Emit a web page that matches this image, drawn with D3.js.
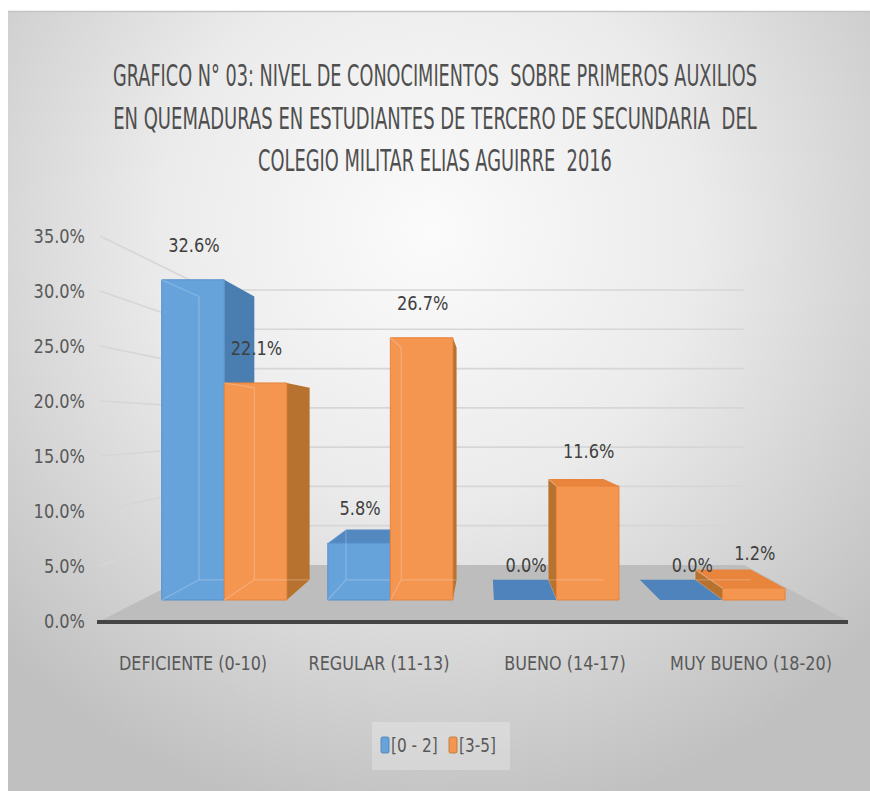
<!DOCTYPE html>
<html>
<head>
<meta charset="utf-8">
<script src="https://cdn.jsdelivr.net/npm/d3@7"></script>
<style>
  html, body { margin: 0; padding: 0; background: #fff; }
  svg { display: block; }
  text { font-family: 'Liberation Sans Narrow', 'DejaVu Sans Condensed', 'Roboto', sans-serif; }
</style>
</head>
<body>
<svg id="chart"></svg>
<script>
// Data
const categories = ['DEFICIENTE (0-10)', 'REGULAR (11-13)', 'BUENO (14-17)', 'MUY BUENO (18-20)'];
const seriesNames = ['[0 - 2]', '[3-5]'];
const valuesLow = [0.326, 0.058, 0.0, 0.0];      // [0 - 2]
const valuesHigh = [0.221, 0.267, 0.116, 0.012]; // [3-5]
const yTicks = [0, 0.05, 0.10, 0.15, 0.20, 0.25, 0.30, 0.35];
const titleLines = [
  'GRAFICO N° 03: NIVEL DE CONOCIMIENTOS  SOBRE PRIMEROS AUXILIOS',
  'EN QUEMADURAS EN ESTUDIANTES DE TERCERO DE SECUNDARIA  DEL',
  'COLEGIO MILITAR ELIAS AGUIRRE  2016'
];

const width = 870, height = 791;
const svg = d3.select('#chart').attr('width', width).attr('height', height);

// palette: front / side / top
const colors = {
  '[0 - 2]': { front: '#67a3db', side: '#4a7db0', top: '#5488c0', edge: '#5590cc' },
  '[3-5]':   { front: '#f49550', side: '#b8722f', top: '#e8843c', edge: '#e7843c' }
};

// squeeze text horizontally (the source font is a tall condensed face)
function condense(sel, sx) {
  sel.each(function() {
    const t = d3.select(this);
    const px = +t.attr('x') || 0, py = +t.attr('y') || 0;
    t.attr('x', 0).attr('y', 0)
      .attr('transform', `translate(${px},${py}) scale(${sx},1)`);
  });
}

// background
const defs = svg.append('defs');
const bg = defs.append('radialGradient').attr('id', 'bg')
  .attr('gradientUnits', 'userSpaceOnUse')
  .attr('cx', 430).attr('cy', 230).attr('r', 600);
bg.append('stop').attr('offset', 0).attr('stop-color', '#fbfbfb');
bg.append('stop').attr('offset', 0.45).attr('stop-color', '#ebebeb');
bg.append('stop').attr('offset', 1).attr('stop-color', '#c0c0c0');

svg.append('rect').attr('x', 8).attr('y', 11).attr('width', width - 8).attr('height', height - 11)
  .attr('fill', 'url(#bg)');
svg.append('line').attr('x1', 8).attr('x2', width).attr('y1', 11.5).attr('y2', 11.5)
  .attr('stroke', '#c4c4c4').attr('stroke-width', 1.5);

// title, each line squeezed to the width it has in the source
const titleWidths = [644, 644, 354];
svg.append('g').selectAll('text')
  .data(titleLines)
  .join('text')
  .attr('text-anchor', 'middle')
  .attr('font-size', 30)
  .attr('fill', '#4f4f4f')
  .style('white-space', 'pre')
  .text(d => d)
  .each(function(d, i) {
    const w = this.getComputedTextLength();
    d3.select(this).attr('transform', `translate(435,${86 + i * 42.5}) scale(${titleWidths[i] / w},1)`);
  });

// ---- 3D perspective setup ----
const VP = [485, 425];           // vanishing point
const sFront = 1, sBack = 0.714; // floor depth (scale factors)
const barFront = 0.893, barBack = 0.79;

const y = d3.scaleLinear().domain([0, 0.35]).range([621, 236]);
const x = d3.scaleBand().domain(categories).range([100, 844])
  .paddingInner(0.247).paddingOuter(0.1235);
const xs = d3.scaleBand().domain(seriesNames).range([0, x.bandwidth()]);

function proj(X, v, s) {
  return [VP[0] + (X - VP[0]) * s, VP[1] + (y(v) - VP[1]) * s];
}
const poly = pts => 'M' + pts.map(p => p.join(',')).join('L') + 'Z';

const g = svg.append('g');

// floor
const floorL = 100, floorR = 848;
g.append('path')
  .attr('d', poly([proj(floorL, 0, sFront), proj(floorR, 0, sFront), proj(floorR, 0, sBack), proj(floorL, 0, sBack)]))
  .attr('fill', '#bdbdbd');

// gridlines: side wall + back wall
yTicks.filter(t => t > 0).forEach(t => {
  const a = proj(floorL, t, sFront), b = proj(floorL, t, sBack), c = proj(floorR, t, sBack);
  g.append('path')
    .attr('d', `M${a}L${b}L${c}`)
    .attr('fill', 'none')
    .attr('stroke', '#d6d6d6')
    .attr('stroke-width', 1.6);
});

// axis line
g.append('line')
  .attr('x1', 97).attr('x2', floorR)
  .attr('y1', y(0) + 1).attr('y2', y(0) + 1)
  .attr('stroke', '#454545').attr('stroke-width', 4);

// y axis labels
const yAxis = svg.append('g')
  .attr('transform', 'translate(85,0)')
  .call(d3.axisLeft(y).tickValues(yTicks).tickFormat(d3.format('.1%')).tickSize(0).tickPadding(0));
yAxis.select('.domain').remove();
yAxis.selectAll('text')
  .attr('font-size', 20)
  .attr('fill', '#595959')
  .attr('transform', 'scale(0.9,1)')
  .style('font-family', "'Liberation Sans Narrow', 'DejaVu Sans Condensed', sans-serif");

// bars
const bars = [];
categories.forEach((c, i) => {
  [valuesLow[i], valuesHigh[i]].forEach((v, j) => {
    const name = seriesNames[j];
    const x0 = x(c) + xs(name), x1 = x0 + xs.bandwidth();
    bars.push({ c, name, v, x0, x1, mid: (x0 + x1) / 2 });
  });
});
// paint the bars farthest from the vanishing point first
bars.sort((a, b) => Math.abs(b.mid - VP[0]) - Math.abs(a.mid - VP[0]));

bars.forEach(b => {
  const col = colors[b.name];
  const bg = g.append('g');
  const fBL = proj(b.x0, 0, barFront), fBR = proj(b.x1, 0, barFront);
  const fTL = proj(b.x0, b.v, barFront), fTR = proj(b.x1, b.v, barFront);
  const bBL = proj(b.x0, 0, barBack), bBR = proj(b.x1, 0, barBack);
  const bTL = proj(b.x0, b.v, barBack), bTR = proj(b.x1, b.v, barBack);

  if (b.v === 0) {
    bg.append('path').attr('d', poly([fBL, fBR, bBR, bBL])).attr('fill', '#4f83bb');
    return;
  }
  // side face
  if (b.mid < VP[0]) {
    bg.append('path').attr('d', poly([fBR, fTR, bTR, bBR])).attr('fill', col.side);
  } else {
    bg.append('path').attr('d', poly([fBL, fTL, bTL, bBL])).attr('fill', col.side);
  }
  // top face (visible when top is below the vanishing point)
  if (fTL[1] > VP[1] - 1) {
    bg.append('path').attr('d', poly([fTL, fTR, bTR, bTL])).attr('fill', col.top);
  }
  // front face
  bg.append('path').attr('d', poly([fBL, fBR, fTR, fTL]))
    .attr('fill', col.front)
    .attr('stroke', col.edge).attr('stroke-width', 1);
  // faint back edges seen through the face
  bg.append('path')
    .attr('d', `M${fTL}L${bTL}L${bBL}L${bBR}M${bBL}L${fBL}`)
    .attr('fill', 'none')
    .attr('stroke', 'rgba(255,255,255,0.22)')
    .attr('stroke-width', 1.2);
});

// data labels
const labels = [];
categories.forEach((c, i) => {
  [valuesLow[i], valuesHigh[i]].forEach((v, j) => {
    const name = seriesNames[j];
    const x0 = x(c) + xs(name);
    const top = proj(x0 + xs.bandwidth() / 2, v, barFront);
    labels.push({ v, px: top[0] + 1, py: top[1] - 28 });
  });
});
svg.append('g').selectAll('text')
  .data(labels)
  .join('text')
  .attr('x', d => d.px)
  .attr('y', d => d.py)
  .attr('text-anchor', 'middle')
  .attr('font-size', 20)
  .attr('fill', '#404040')
  .text(d => d3.format('.1%')(d.v))
  .call(condense, 0.9);

// category labels sit on the front plane of the floor
svg.append('g').selectAll('text')
  .data(categories)
  .join('text')
  .attr('x', d => x(d) + x.bandwidth() / 2)
  .attr('y', 670)
  .attr('text-anchor', 'middle')
  .attr('font-size', 20)
  .attr('fill', '#595959')
  .text(d => d)
  .call(condense, 0.89);

// legend
const legend = svg.append('g').attr('transform', 'translate(372,722)');
legend.append('rect').attr('width', 138).attr('height', 48).attr('fill', 'rgba(255,255,255,0.25)');
const items = [{ name: seriesNames[0], x: 9, tx: 19 }, { name: seriesNames[1], x: 77, tx: 87 }];
items.forEach(it => {
  legend.append('rect')
    .attr('x', it.x).attr('y', 15).attr('width', 8).attr('height', 16).attr('rx', 1.5)
    .attr('fill', colors[it.name].front).attr('stroke', colors[it.name].side).attr('stroke-width', 0.8);
  legend.append('text')
    .attr('x', it.tx).attr('y', 30)
    .attr('font-size', 20)
    .attr('fill', '#595959')
    .style('white-space', 'pre')
    .text(it.name)
    .call(condense, 0.85);
});
</script>
</body>
</html>
